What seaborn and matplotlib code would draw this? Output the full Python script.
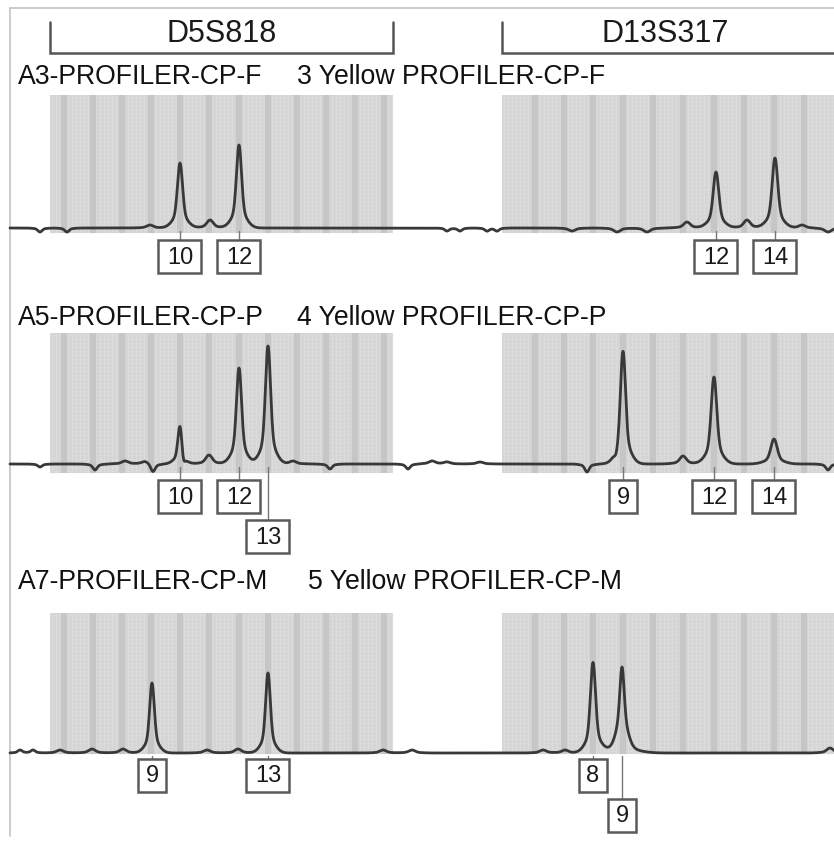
import numpy as np
import pandas as pd
import matplotlib
matplotlib.use("Agg")
import matplotlib.pyplot as plt
from matplotlib.patches import Rectangle
import seaborn as sns

# ---------------- data ----------------
markers = ["D5S818", "D13S317"]
sample_names = ["A3-PROFILER-CP-F", "A5-PROFILER-CP-P", "A7-PROFILER-CP-M"]
lane_names = ["3 Yellow PROFILER-CP-F", "4 Yellow PROFILER-CP-P", "5 Yellow PROFILER-CP-M"]

# peak positions (scan axis) and heights (signal units) for each sample
r1_pos = [40, 67, 150, 180, 210, 239, 447, 460, 487, 497, 572, 617, 647, 687, 716, 747, 775, 802, 828]
r1_hgt = [-4, -4, 3, 65, 8, 83, -3, -3, -3, -3, -3, -4, -4, 6, 56, 8, 70, 3, -4]
r1_wid = [2, 2, 3, 2.4, 3, 2.4, 2, 2, 2, 2, 3, 3, 3, 3, 2.6, 3, 2.6, 3, 3]

r2_pos = [40, 95, 125, 145, 153, 180, 183, 209, 239, 268, 293, 330, 408, 432, 447, 480, 587, 616, 623, 683, 714, 774, 828]
r2_hgt = [-3, -6, 3, 3, -8, 40, -9, 9, 96, 118, 3, -5, -5, 3, 2, 2, -8, -5, 113, 8, 87, 25, -6]
r2_wid = [2, 2, 3, 3, 2, 2.0, 1.5, 3, 2.4, 2.4, 3, 2, 2, 3, 3, 3, 2, 1.5, 2.4, 3, 2.6, 3, 2]

r3_pos = [20, 33, 60, 92, 123, 152, 207, 238, 268, 383, 412, 543, 565, 593, 622, 622, 830]
r3_hgt = [3, 3, 3, 4, 4, 70, 3, 4, 80, 3, 3, 3, 3, 90, 62, 24, 5]
r3_wid = [2, 2, 3, 3, 3, 2.2, 3, 3, 2.2, 3, 3, 3, 3, 2.4, 2.0, 5, 3]

# allele calls: label, position, label level (0 = first row of boxes, 1 = second row)
r1_alleles = ["10", "12", "12", "14"]
r1_allele_pos = [180, 239, 716, 775]
r1_levels = [0, 0, 0, 0]

r2_alleles = ["10", "12", "13", "9", "12", "14"]
r2_allele_pos = [180, 239, 268, 623, 714, 774]
r2_levels = [0, 0, 1, 0, 0, 0]

r3_alleles = ["9", "13", "8", "9"]
r3_allele_pos = [152, 268, 593, 622]
r3_levels = [0, 0, 0, 1]

# allele bin centres (dark bands) for each marker
d5_bins = [64, 93, 122, 151, 180, 209, 239, 268, 297, 326, 355, 384]
d13_bins = [535, 564, 593, 623, 653, 683, 714, 744, 774, 804]

# ---------------- layout ----------------
W, H = 834, 841
fig = plt.figure(figsize=(W / 100, H / 100), dpi=100)
ax = fig.add_axes([0, 0, 1, 1])
sns.set_style("white")
plt.rcParams["font.family"] = ["Liberation Sans", "DejaVu Sans"]
ax.set_xlim(0, W)
ax.set_ylim(H, 0)
ax.axis("off")

rows = [
    dict(pos=r1_pos, hgt=r1_hgt, wid=r1_wid, al=r1_alleles, alp=r1_allele_pos, lev=r1_levels,
         base=228, gtop=95, gbot=233, title_y=77, lane_x=297, box_y=240),
    dict(pos=r2_pos, hgt=r2_hgt, wid=r2_wid, al=r2_alleles, alp=r2_allele_pos, lev=r2_levels,
         base=464, gtop=333, gbot=473, title_y=318, lane_x=297, box_y=480),
    dict(pos=r3_pos, hgt=r3_hgt, wid=r3_wid, al=r3_alleles, alp=r3_allele_pos, lev=r3_levels,
         base=753, gtop=613, gbot=754, title_y=582, lane_x=308, box_y=759),
]

panels_x = [(50, 393), (502, 834)]
bins = [d5_bins, d13_bins]

# frame
ax.plot([10, W], [8, 8], color="#c4c4c4", lw=1.2)
ax.plot([10, 10], [8, 836], color="#c4c4c4", lw=1.2)

# marker brackets
for (x0, x1), name in zip(panels_x, markers):
    xe = x1 if x1 < W else W + 5
    ax.plot([x0, x0, xe, xe], [22, 53, 53, 22], color="#555555", lw=1.8,
            solid_joinstyle="miter")
    ax.text((x0 + (x1 if x1 < W else 828)) / 2, 34, name, ha="center", va="center",
            fontsize=22, color="#1a1a1a")

tx = np.arange(10, W + 1, 0.5)

for r, sname, lname in zip(rows, sample_names, lane_names):
    # grid background
    for (x0, x1), bc in zip(panels_x, bins):
        ax.add_patch(Rectangle((x0, r["gtop"]), x1 - x0, r["gbot"] - r["gtop"],
                               facecolor="#d5d5d5", edgecolor="none", zorder=1))
        fx = np.arange(x0 + 2, x1, 4.0)
        ax.vlines(fx, r["gtop"], r["gbot"], color="#dedede", lw=0.6, zorder=1.1)
        fy = np.arange(r["gtop"] + 2, r["gbot"], 4.0)
        ax.hlines(fy, x0, x1, color="#dcdcdc", lw=0.5, zorder=1.1)
        bx = [b for b in bc if x0 < b < x1]
        ax.vlines(bx, r["gtop"], r["gbot"], color="#c6c6c6", lw=4.5, zorder=1.2)

    # titles
    ax.text(18, r["title_y"], sname, ha="left", va="center", fontsize=19.2, color="#111111")
    ax.text(r["lane_x"], r["title_y"], lname, ha="left", va="center", fontsize=19.2,
            color="#111111")

    # trace
    sig = np.zeros_like(tx)
    for p, h, w in zip(r["pos"], r["hgt"], r["wid"]):
        sig += h * (0.78 * np.exp(-0.5 * ((tx - p) / w) ** 2)
                    + 0.22 * np.exp(-0.5 * ((tx - p) / (w * 2.8)) ** 2))
    df = pd.DataFrame({"x": tx, "y": r["base"] - sig})
    sns.lineplot(data=df, x="x", y="y", ax=ax, color="#383838", lw=2.0,
                 sort=False, estimator=None, zorder=3)

    # allele boxes
    for lab, p, lev in zip(r["al"], r["alp"], r["lev"]):
        bw = 28 if len(lab) == 1 else 43
        bh = 33
        by = r["box_y"] + lev * 40
        ax.plot([p, p], [r["base"] + 3, by], color="#777777", lw=1.0, zorder=2)
        ax.add_patch(Rectangle((p - bw / 2, by), bw, bh, facecolor="white",
                               edgecolor="#5a5a5a", lw=1.8, zorder=4))
        ax.text(p, by + bh / 2 + 1, lab, ha="center", va="center", fontsize=17,
                color="#1a1a1a", zorder=5)

fig.savefig("out.png", dpi=100)
